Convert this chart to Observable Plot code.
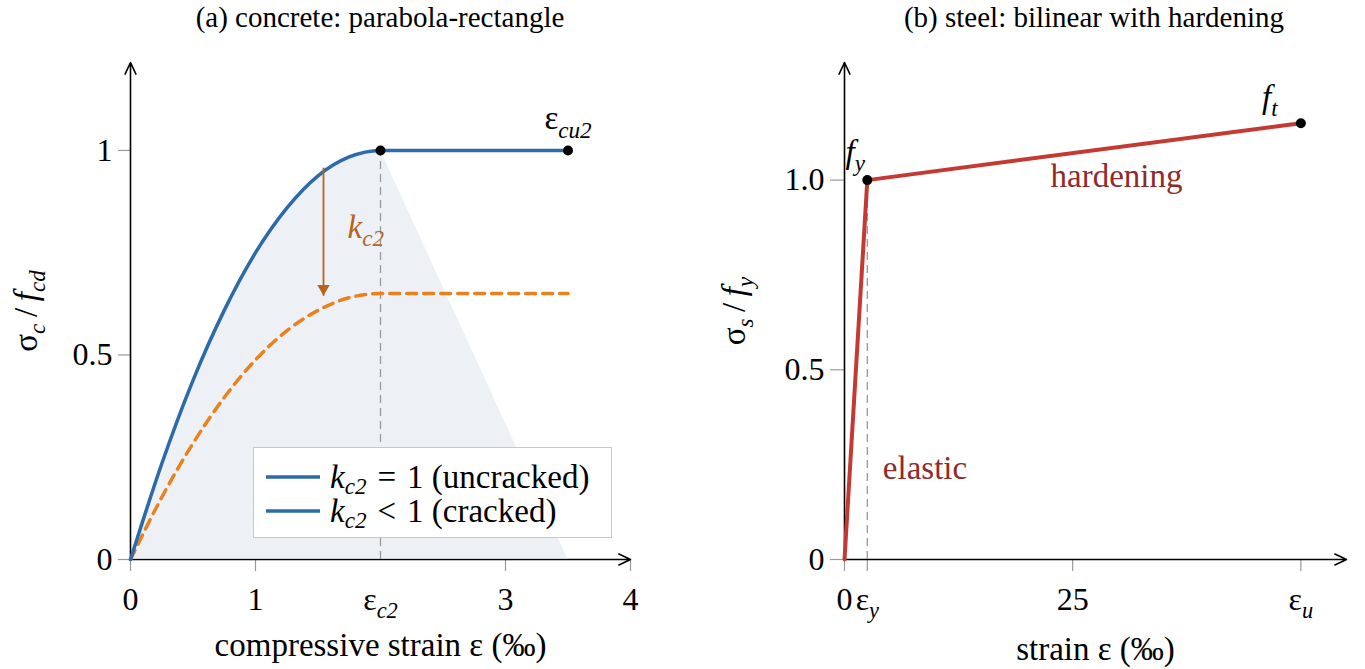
<!DOCTYPE html>
<html>
<head>
<meta charset="utf-8">
<script src="https://cdn.jsdelivr.net/npm/d3@7"></script>
<script src="https://cdn.jsdelivr.net/npm/@observablehq/plot@0.6"></script>
<style>
  body { margin: 0; background: #fff; }
  #root { position: relative; width: 1365px; height: 669px; font-family: "Liberation Serif", serif; color: #000; overflow: hidden; }
  .title { position: absolute; top: 0; height: 36px; line-height: 34px; font-size: 29px; text-align: center; white-space: nowrap; }
  .panel { position: absolute; top: 36px; }
  .legend { position: absolute; left: 253px; top: 447px; width: 359px; height: 91px; box-sizing: border-box;
            border: 1.5px solid #c8c8c8; background: #fff; font-size: 33px; }
  .legend .row { position: absolute; left: 12px; height: 34px; display: flex; align-items: center; white-space: nowrap; }
  .legend .row svg { margin-right: 10px; }
  .legend sub { font-size: 0.7em; font-style: italic; vertical-align: -0.25em; line-height: 0; }
</style>
</head>
<body>
<div id="root"></div>
<script>
// ---------------- data ----------------
// (a) concrete parabola-rectangle
const concreteStrain  = [0, 0.25, 0.5, 0.75, 1.0, 1.25, 1.5, 1.75, 2.0, 2.5, 3.0, 3.5];
const uncrackedStress = [0, 0.234, 0.438, 0.609, 0.750, 0.859, 0.938, 0.984, 1.0, 1.0, 1.0, 1.0];
const crackedStress   = [0, 0.152, 0.284, 0.396, 0.488, 0.559, 0.609, 0.640, 0.65, 0.65, 0.65, 0.65];
const shadeStrain = [0, 0.25, 0.5, 0.75, 1.0, 1.25, 1.5, 1.75, 2.0, 3.5];
const shadeStress = [0, 0.234, 0.438, 0.609, 0.750, 0.859, 0.938, 0.984, 1.0, 0];
const concreteMarkers = [{x: 2.0, y: 1.0}, {x: 3.5, y: 1.0}];
const concreteXTicks = [0, 1, 3, 4];
const concreteXTickLabels = ["0", "1", "3", "4"];
const epsC2 = 2.0;
const epsC2Label = "ε_{c2}";
const concreteYTicks = [0, 0.5, 1];
const concreteYTickLabels = ["0", "0.5", "1"];
const concreteXDomain = [0, 4];
const concreteYDomain = [0, 1.215];
const kArrow = {x: 1.544, top: 0.958, bottom: 0.645};
const concreteNotes = [
  {label: "ε_{cu2}", x: 3.5, y: 1.0},
  {label: "*k*_{c2}", x: 1.736, y: 0.785}
];
const legendItems = [
  "<i>k</i><sub>c2</sub>\u2004=\u20041 (uncracked)",
  "<i>k</i><sub>c2</sub>\u2004&lt;\u20041 (cracked)"
];

// (b) steel bilinear with hardening
const steelStrain = [0, 2.5, 50];
const steelStress = [0, 1.0, 1.15];
const steelMarkers = [{x: 2.5, y: 1.0}, {x: 50, y: 1.15}];
const epsY = 2.5;
const steelXTicks = [0, 2.5, 25, 50];
const steelXTickLabels = ["0", "ε_{y}", "25", "ε_{u}"];
const steelYTicks = [0, 0.5, 1.0];
const steelYTickLabels = ["0", "0.5", "1.0"];
const steelXDomain = [0, 55];
const steelYDomain = [0, 1.31];
const steelNotes = [
  {label: "*f*_{y}", x: 2.5, y: 1.0, anchor: "middle", dx: -12, dy: -17, color: "#000"},
  {label: "*f*_{t}", x: 50, y: 1.15, anchor: "middle", dx: -31, dy: -15, color: "#000"},
  {label: "hardening", x: 29.8, y: 0.982, anchor: "middle", dx: 0, dy: 0, color: "#8e2b2b"},
  {label: "elastic", x: 4.2, y: 0.211, anchor: "start", dx: 0, dy: 0, color: "#8e2b2b"}
];

// ---------------- helpers ----------------
const FONT = "Liberation Serif, serif";
const TICK = 32, LAB = 33;
const BLUE = "#2d6aa9", ORANGE = "#e8821f", DARKORANGE = "#b5651d", RED = "#c43a33";

function rich(svg) {
  d3.select(svg).selectAll("text").each(function () {
    const el = this;
    const s = el.textContent;
    if (!/[*_]/.test(s)) return;
    const parts = s.match(/\*[^*]+\*|_\{[^}]+\}|[^*_]+/g);
    while (el.firstChild) el.removeChild(el.firstChild);
    let inSub = false;
    for (const p of parts) {
      const t = document.createElementNS("http://www.w3.org/2000/svg", "tspan");
      if (p.startsWith("_{")) {
        t.textContent = p.slice(2, -1);
        t.setAttribute("font-size", "0.7em");
        t.setAttribute("font-style", "italic");
        if (!inSub) t.setAttribute("dy", "0.35em");
        inSub = true;
      } else {
        if (p.startsWith("*")) { t.textContent = p.slice(1, -1); t.setAttribute("font-style", "italic"); }
        else t.textContent = p;
        if (inSub) t.setAttribute("dy", "-0.245em");
        inSub = false;
      }
      el.appendChild(t);
    }
  });
}

const zip = (xs, ys) => xs.map((x, i) => ({x, y: ys[i]}));
const arrowStyle = {stroke: "#000", strokeWidth: 1.6, headLength: 12, headAngle: 50};

// ---------------- panel (a) ----------------
const aXLab = new Map(concreteXTicks.map((d, i) => [d, concreteXTickLabels[i]]));
const aYLab = new Map(concreteYTicks.map((d, i) => [d, concreteYTickLabels[i]]));

const plotA = Plot.plot({
  width: 682, height: 633,
  marginLeft: 130, marginRight: 52, marginTop: 26, marginBottom: 110,
  x: {domain: concreteXDomain, axis: null},
  y: {domain: concreteYDomain, axis: null},
  style: {fontFamily: FONT, fontSize: TICK + "px", background: "white", overflow: "visible"},
  marks: [
    Plot.axisX(concreteXTicks, {tickSize: 12, tickPadding: 16, stroke: "#999", strokeWidth: 1.2, tickFormat: d => aXLab.get(d), label: null, fontSize: TICK}),
    Plot.axisX([epsC2], {tickSize: 0, tickPadding: 28, tickFormat: () => epsC2Label, label: null, fontSize: TICK}),
    Plot.axisY(concreteYTicks, {tickSize: 12, tickPadding: 6, stroke: "#999", strokeWidth: 1.2, tickFormat: d => aYLab.get(d), label: null, fontSize: TICK}),
    Plot.arrow([{x1: concreteXDomain[0], y1: 0, x2: concreteXDomain[1], y2: 0}], {x1: "x1", y1: "y1", x2: "x2", y2: "y2", ...arrowStyle}),
    Plot.arrow([{x1: 0, y1: concreteYDomain[0], x2: 0, y2: concreteYDomain[1]}], {x1: "x1", y1: "y1", x2: "x2", y2: "y2", ...arrowStyle}),
    Plot.areaY(zip(shadeStrain, shadeStress), {x: "x", y: "y", fill: "#dbe3ee", fillOpacity: 0.5}),
    Plot.ruleX([epsC2], {y1: 0, y2: 1, stroke: "#999", strokeWidth: 1.3, strokeDasharray: "8,5"}),
    Plot.line(zip(concreteStrain, crackedStress), {x: "x", y: "y", stroke: ORANGE, strokeWidth: 3.5, strokeDasharray: "10,7", curve: "monotone-x"}),
    Plot.line(zip(concreteStrain, uncrackedStress), {x: "x", y: "y", stroke: BLUE, strokeWidth: 3.5, curve: "monotone-x"}),
    Plot.link([kArrow], {x1: "x", x2: "x", y1: "top", y2: "bottom", stroke: DARKORANGE, strokeWidth: 1.8}),
    Plot.dot([kArrow], {x: "x", y: "bottom", symbol: "triangle", rotate: 180, r: 4.6, fill: DARKORANGE, stroke: "none", dy: -7}),
    Plot.dot(concreteMarkers, {x: "x", y: "y", r: 5, fill: "#000", stroke: "none"}),
    Plot.text(concreteNotes.slice(0, 1), {x: "x", y: "y", text: "label", textAnchor: "middle", lineAnchor: "bottom", dy: -21, fill: "#000", fontSize: LAB}),
    Plot.text(concreteNotes.slice(1), {x: "x", y: "y", text: "label", textAnchor: "start", lineAnchor: "bottom", fill: DARKORANGE, fontSize: LAB}),
    Plot.text(["compressive strain ε (‰)"], {frameAnchor: "bottom", text: d => d, lineAnchor: "middle", dy: 86, fontSize: LAB}),
    Plot.text(["σ_{c}\u2009/\u2009*f*_{cd}"], {frameAnchor: "left", text: d => d, rotate: -90, textAnchor: "middle", lineAnchor: "middle", dx: -104, fontSize: LAB})
  ]
});
rich(plotA);

// ---------------- panel (b) ----------------
const bXLab = new Map(steelXTicks.map((d, i) => [d, steelXTickLabels[i]]));
const bYLab = new Map(steelYTicks.map((d, i) => [d, steelYTickLabels[i]]));

const plotB = Plot.plot({
  width: 683, height: 633,
  marginLeft: 162, marginRight: 19, marginTop: 26, marginBottom: 110,
  x: {domain: steelXDomain, axis: null},
  y: {domain: steelYDomain, axis: null},
  style: {fontFamily: FONT, fontSize: TICK + "px", background: "white", overflow: "visible"},
  marks: [
    Plot.axisX(steelXTicks, {tickSize: 12, tickPadding: 16, stroke: "#999", strokeWidth: 1.2, tickFormat: d => bXLab.get(d), label: null, fontSize: TICK}),
    Plot.axisY(steelYTicks, {tickSize: 14, tickPadding: 6, stroke: "#999", strokeWidth: 1.2, tickFormat: d => bYLab.get(d), label: null, fontSize: TICK}),
    Plot.arrow([{x1: steelXDomain[0], y1: 0, x2: steelXDomain[1], y2: 0}], {x1: "x1", y1: "y1", x2: "x2", y2: "y2", ...arrowStyle}),
    Plot.arrow([{x1: 0, y1: steelYDomain[0], x2: 0, y2: steelYDomain[1]}], {x1: "x1", y1: "y1", x2: "x2", y2: "y2", ...arrowStyle}),
    Plot.ruleX([epsY], {y1: 0, y2: 1, stroke: "#999", strokeWidth: 1.3, strokeDasharray: "8,5"}),
    Plot.line(zip(steelStrain, steelStress), {x: "x", y: "y", stroke: RED, strokeWidth: 4}),
    Plot.dot(steelMarkers, {x: "x", y: "y", r: 5, fill: "#000", stroke: "none"}),
    ...steelNotes.map(n => Plot.text([n], {x: "x", y: "y", text: "label", textAnchor: n.anchor, lineAnchor: "bottom", dx: n.dx, dy: n.dy, fill: n.color, fontSize: LAB})),
    Plot.text(["strain ε (‰)"], {frameAnchor: "bottom", text: d => d, lineAnchor: "middle", dy: 90, fontSize: LAB}),
    Plot.text(["σ_{s}\u2009/\u2009*f*_{y}"], {frameAnchor: "left", text: d => d, rotate: -90, textAnchor: "middle", lineAnchor: "middle", dx: -110, fontSize: LAB})
  ]
});
rich(plotB);

// ---------------- layout ----------------
const root = document.getElementById("root");
function addTitle(text, left, width) {
  const d = document.createElement("div");
  d.className = "title"; d.textContent = text;
  d.style.left = left + "px"; d.style.width = width + "px";
  root.appendChild(d);
}
addTitle("(a) concrete: parabola-rectangle", 80, 600);
addTitle("(b) steel: bilinear with hardening", 794, 600);

const pa = document.createElement("div"); pa.className = "panel"; pa.style.left = "0px"; pa.appendChild(plotA); root.appendChild(pa);
const pb = document.createElement("div"); pb.className = "panel"; pb.style.left = "682px"; pb.appendChild(plotB); root.appendChild(pb);

const lg = document.createElement("div"); lg.className = "legend";
legendItems.forEach((html, i) => {
  const r = document.createElement("div"); r.className = "row";
  r.style.top = (12 + i * 34) + "px";
  r.innerHTML = `<svg width="54" height="10"><line x1="0" x2="54" y1="5" y2="5" stroke="${BLUE}" stroke-width="3.5"/></svg><span>${html}</span>`;
  lg.appendChild(r);
});
root.appendChild(lg);
</script>
</body>
</html>
